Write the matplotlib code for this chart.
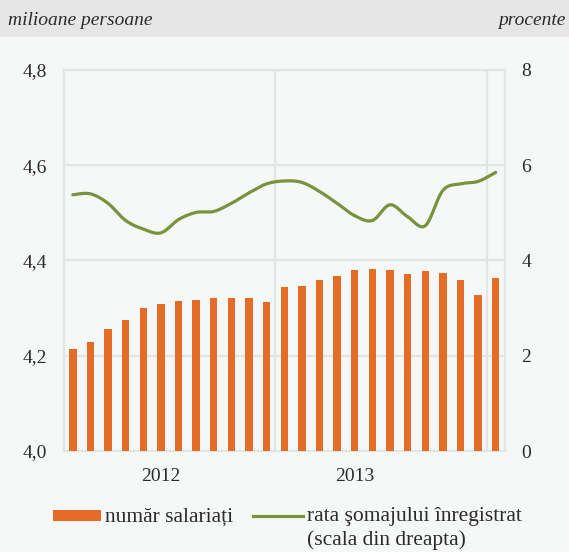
import matplotlib
matplotlib.use("Agg")
import matplotlib.pyplot as plt
import numpy as np
from matplotlib.patches import Rectangle
from matplotlib.lines import Line2D

# monthly data, Jan 2012 - Jan 2014
employees = [4.214, 4.228, 4.256, 4.276, 4.301, 4.309, 4.316, 4.318, 4.321,
             4.321, 4.321, 4.312, 4.345, 4.347, 4.360, 4.368, 4.380, 4.383,
             4.381, 4.372, 4.377, 4.374, 4.360, 4.328, 4.363]
unemployment = [5.38, 5.40, 5.20, 4.84, 4.66, 4.58, 4.86, 5.01, 5.03, 5.20,
                5.42, 5.61, 5.67, 5.64, 5.45, 5.20, 4.94, 4.84, 5.17, 4.92,
                4.73, 5.47, 5.61, 5.66, 5.85]
year_labels = ["2012", "2013"]
year_label_pos = [5, 16]
year_breaks = [11.5, 23.5]
left_ticks = [4.0, 4.2, 4.4, 4.6, 4.8]
right_ticks = [0, 2, 4, 6, 8]

BG = "#f6f7f7"
GRID = "#e3e4e4"
ORANGE = "#e46c27"
GREEN = "#77933c"
TEXT = "#2b2b2b"
FONT = "Liberation Serif"

plt.rcParams["font.family"] = "serif"
plt.rcParams["font.serif"] = [FONT, "DejaVu Serif"]


def catmull_rom(xs, ys, steps=20):
    """Smooth curve through the points (like Excel's smoothed line)."""
    pts = np.column_stack([xs, ys]).astype(float)
    pts = np.vstack([pts[0], pts, pts[-1]])
    out = []
    t = np.linspace(0, 1, steps, endpoint=False)[:, None]
    for i in range(1, len(pts) - 2):
        p0, p1, p2, p3 = pts[i - 1], pts[i], pts[i + 1], pts[i + 2]
        seg = 0.5 * ((2 * p1) + (-p0 + p2) * t
                     + (2 * p0 - 5 * p1 + 4 * p2 - p3) * t ** 2
                     + (-p0 + 3 * p1 - 3 * p2 + p3) * t ** 3)
        out.append(seg)
    out.append(pts[-2][None, :])
    out = np.vstack(out)
    return out[:, 0], out[:, 1]


W, H = 569, 552
fig = plt.figure(figsize=(W / 100, H / 100), dpi=100, facecolor=BG)

# header band
fig.patches.append(Rectangle((0, 1 - 37 / H), 1, 37 / H, transform=fig.transFigure,
                             facecolor="#e6e6e6", edgecolor="none", zorder=0))
fig.text(8 / W, 1 - 25 / H, "milioane persoane", family=FONT, style="italic",
         fontsize=14, color=TEXT, ha="left", va="baseline")
fig.text(566 / W, 1 - 25 / H, "procente", family=FONT, style="italic",
         fontsize=14, color=TEXT, ha="right", va="baseline")

left, right, bottom, top = 64, 504.5, 451, 70
ax = fig.add_axes([left / W, 1 - bottom / H, (right - left) / W, (bottom - top) / H])
ax.set_facecolor(BG)

x = np.arange(len(employees))
ax.bar(x, employees, width=0.42, color=ORANGE, zorder=3)
ax.set_xlim(-0.5, len(employees) - 0.5)
ax.set_ylim(4.0, 4.8)
ax.set_yticks(left_ticks)
ax.set_yticklabels([f"{v:.1f}".replace(".", ",") for v in left_ticks], family=FONT)
ax.set_xticks(year_label_pos)
ax.set_xticklabels(year_labels, family=FONT)
for v in left_ticks[1:]:
    ax.axhline(v, color=GRID, lw=1.6, zorder=1)
for b in year_breaks:
    ax.axvline(b, color=GRID, lw=1.6, zorder=1)
for s in ax.spines.values():
    s.set_color(GRID)
    s.set_linewidth(1.6)
ax.tick_params(length=0, pad=12, labelsize=14, colors=TEXT)

ax2 = ax.twinx()
ax2.set_ylim(0, 8)
ax2.set_yticks(right_ticks)
ax2.set_yticklabels([str(v) for v in right_ticks], family=FONT)
sx, sy = catmull_rom(x, unemployment)
ax2.plot(sx, sy, color=GREEN, lw=2.3, solid_capstyle="round", zorder=4)
for s in ax2.spines.values():
    s.set_visible(False)
ax2.tick_params(length=0, pad=12, labelsize=14, colors=TEXT)

# legend
fig.patches.append(Rectangle((52.7 / W, 1 - 520.7 / H), 48.3 / W, 10.7 / H,
                             transform=fig.transFigure, facecolor=ORANGE,
                             edgecolor="none"))
fig.text(105 / W, 1 - 521.5 / H, "număr salariați", family=FONT, fontsize=15.5,
         color=TEXT, ha="left", va="baseline")
fig.lines.append(Line2D([253 / W, 303 / W], [1 - 515.7 / H, 1 - 515.7 / H],
                        transform=fig.transFigure, color=GREEN, lw=2.3))
fig.text(307 / W, 1 - 521.5 / H, "rata şomajului înregistrat", family=FONT,
         fontsize=15.5, color=TEXT, ha="left", va="baseline")
fig.text(307 / W, 1 - 545 / H, "(scala din dreapta)", family=FONT,
         fontsize=15.5, color=TEXT, ha="left", va="baseline")

fig.savefig("out.png", dpi=100, facecolor=BG)
